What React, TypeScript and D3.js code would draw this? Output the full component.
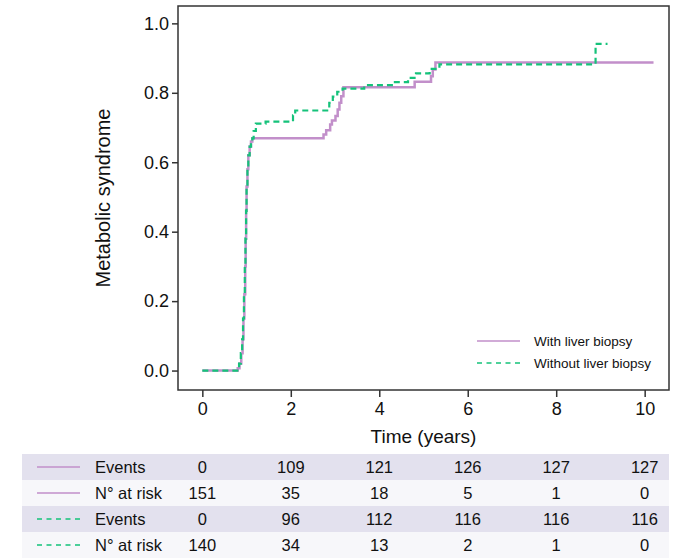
import { useRef, useEffect } from "react";
import * as d3 from "d3";

// cumulative incidence
const bioTime = [0, 0.8, 0.84, 0.88, 0.91, 0.93, 0.95, 0.97, 0.98, 0.99, 1.0, 1.02, 1.04, 1.07, 1.1, 1.13, 2.74, 2.8, 2.89, 2.93, 3.01, 3.06, 3.1, 3.14, 3.19, 4.8, 5.17, 5.21, 5.27, 10.2];
const bioValue = [0, 0.007, 0.02, 0.05, 0.09, 0.15, 0.22, 0.3, 0.38, 0.46, 0.53, 0.58, 0.62, 0.645, 0.66, 0.669, 0.68, 0.692, 0.709, 0.72, 0.733, 0.752, 0.771, 0.79, 0.816, 0.832, 0.848, 0.867, 0.887, 0.887];

const noBioTime = [0, 0.79, 0.83, 0.87, 0.9, 0.92, 0.94, 0.96, 0.975, 0.99, 1.0, 1.02, 1.04, 1.07, 1.1, 1.13, 1.16, 1.21, 1.43, 2.05, 2.1, 2.87, 2.95, 3.05, 3.17, 3.66, 4.31, 4.65, 4.83, 5.14, 5.36, 8.89, 9.16];
const noBioValue = [0, 0.005, 0.02, 0.05, 0.09, 0.15, 0.22, 0.3, 0.38, 0.46, 0.53, 0.58, 0.62, 0.645, 0.66, 0.669, 0.69, 0.711, 0.717, 0.735, 0.749, 0.771, 0.789, 0.803, 0.812, 0.822, 0.831, 0.843, 0.856, 0.869, 0.882, 0.941, 0.941];

const tableTimes = [0, 2, 4, 6, 8, 10];
const bioEvents = [0, 109, 121, 126, 127, 127];
const bioAtRisk = [151, 35, 18, 5, 1, 0];
const noBioEvents = [0, 96, 112, 116, 116, 116];
const noBioAtRisk = [140, 34, 13, 2, 1, 0];

const seriesNames = ["With liver biopsy", "Without liver biopsy"];

const W = 692;
const H = 560;
const purple = "#c28fca";
const green = "#15c27a";
const font = "Arial, 'Liberation Sans', sans-serif";

export default function App() {
  const svgRef = useRef<SVGSVGElement>(null);

  useEffect(() => {
    const left = 178, right = 669, top = 6, bottom = 390;
    const x = d3.scaleLinear().domain([-0.55, 10.55]).range([left, right]);
    const y = d3.scaleLinear().domain([-0.056, 1.05]).range([bottom, top]);

    const svg = d3.select(svgRef.current).html(null);
    svg.append("rect").attr("width", W).attr("height", H).attr("fill", "white");

    // axes
    const yAxis = svg.append("g")
      .attr("transform", `translate(${left},0)`)
      .call(d3.axisLeft(y).tickValues([0, 0.2, 0.4, 0.6, 0.8, 1.0]).tickFormat(d3.format(".1f")).tickSize(6).tickSizeOuter(0));
    const xAxis = svg.append("g")
      .attr("transform", `translate(0,${bottom})`)
      .call(d3.axisBottom(x).tickValues(tableTimes).tickFormat(d3.format("d")).tickSize(7).tickSizeOuter(0));
    [yAxis, xAxis].forEach(g => {
      g.selectAll("text").attr("font-family", font).attr("font-size", 18).attr("fill", "#111");
      g.selectAll("line").attr("stroke", "#333").attr("stroke-width", 1.5);
      g.select(".domain").remove();
    });
    yAxis.selectAll("text").attr("x", -9);
    xAxis.selectAll("text").attr("y", 12);

    svg.append("rect")
      .attr("x", left).attr("y", top)
      .attr("width", right - left).attr("height", bottom - top)
      .attr("fill", "none").attr("stroke", "#333").attr("stroke-width", 1.5);

    svg.append("text")
      .attr("transform", `translate(110,${(top + bottom) / 2}) rotate(-90)`)
      .attr("text-anchor", "middle")
      .attr("font-family", font).attr("font-size", 20).attr("fill", "#111")
      .text("Metabolic syndrome");
    svg.append("text")
      .attr("x", (left + right) / 2).attr("y", 443)
      .attr("text-anchor", "middle")
      .attr("font-family", font).attr("font-size", 19).attr("fill", "#111")
      .text("Time (years)");

    // curves
    const line = d3.line<number>()
      .x(d => x(d[0]))
      .y(d => y(d[1]))
      .curve(d3.curveStepAfter);
    const bio = bioTime.map((t, i) => [t, bioValue[i]]);
    const noBio = noBioTime.map((t, i) => [t, noBioValue[i]]);

    svg.append("path")
      .attr("d", line(bio as any))
      .attr("fill", "none").attr("stroke", purple).attr("stroke-width", 2.5);
    svg.append("path")
      .attr("d", line(noBio as any))
      .attr("fill", "none").attr("stroke", green).attr("stroke-width", 2.2)
      .attr("stroke-dasharray", "6,4");

    // legend
    const lg = svg.append("g").attr("font-family", font).attr("font-size", 13.5);
    seriesNames.forEach((name, i) => {
      const ly = 341 + i * 22;
      lg.append("line")
        .attr("x1", 477).attr("x2", 520).attr("y1", ly).attr("y2", ly)
        .attr("stroke", i === 0 ? purple : green).attr("stroke-width", 1.5)
        .attr("stroke-dasharray", i === 0 ? null : "5,4.5");
      lg.append("text").attr("x", 534).attr("y", ly + 5).attr("fill", "#111").text(name);
    });

    // risk table
    const rows = [
      { label: "Events", vals: bioEvents, color: purple, dashed: false },
      { label: "N° at risk", vals: bioAtRisk, color: purple, dashed: false },
      { label: "Events", vals: noBioEvents, color: green, dashed: true },
      { label: "N° at risk", vals: noBioAtRisk, color: green, dashed: true },
    ];
    const rowH = 26;
    const tableTop = 454;
    const tg = svg.append("g").attr("font-family", font).attr("font-size", 16.5);
    rows.forEach((r, i) => {
      const ry = tableTop + i * rowH;
      tg.append("rect")
        .attr("x", 22).attr("y", ry).attr("width", 647).attr("height", rowH)
        .attr("fill", i % 2 === 0 ? "#e3e1ee" : "#f7f7fa");
      tg.append("line")
        .attr("x1", 37).attr("x2", 80).attr("y1", ry + rowH / 2).attr("y2", ry + rowH / 2)
        .attr("stroke", r.color).attr("stroke-width", 1.5)
        .attr("stroke-dasharray", r.dashed ? "5,4.5" : null);
      tg.append("text").attr("x", 95).attr("y", ry + rowH / 2 + 6).attr("fill", "#111").text(r.label);
      r.vals.forEach((v, j) => {
        tg.append("text")
          .attr("x", x(tableTimes[j])).attr("y", ry + rowH / 2 + 6)
          .attr("text-anchor", "middle").attr("fill", "#111")
          .text(v);
      });
    });
  }, []);

  return (
    <svg
      ref={svgRef}
      width={W}
      height={H}
      style={{ position: "absolute", left: 0, top: 0, display: "block" }}
    />
  );
}
